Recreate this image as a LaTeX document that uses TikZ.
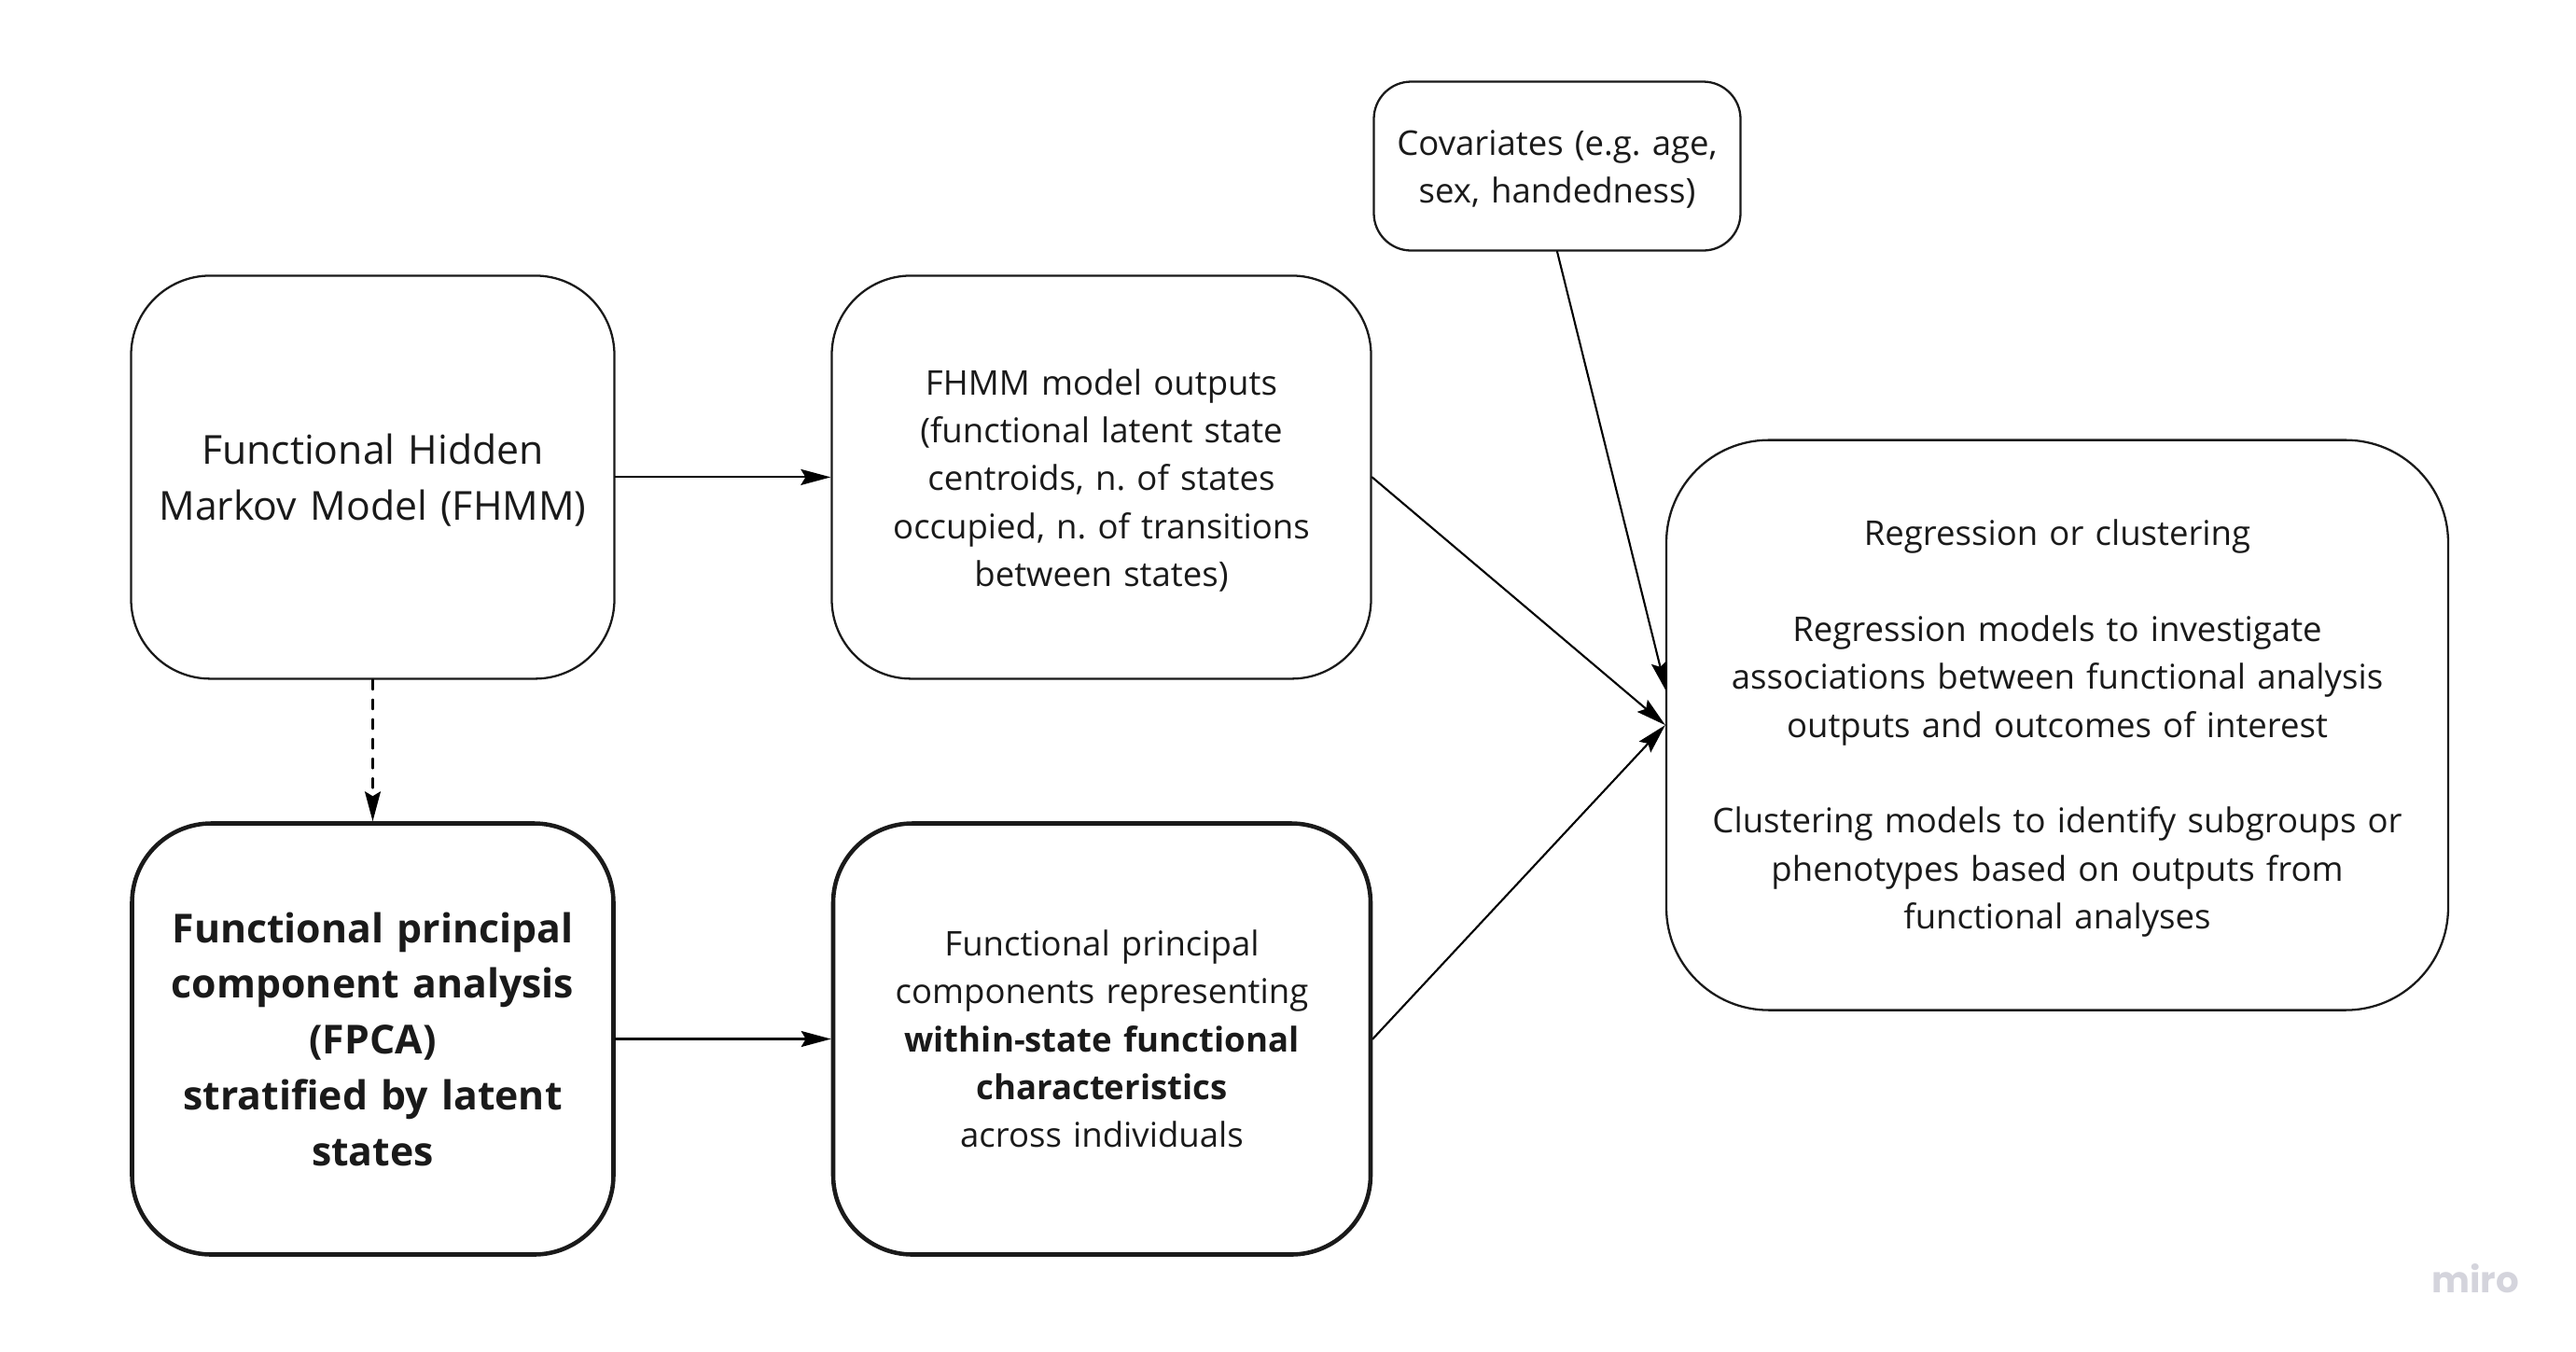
\documentclass[tikz,border=0pt]{standalone}
\usepackage{fontspec}
\setmainfont{Open Sans}
\newfontfamily\wmfont{Poppins}
\usetikzlibrary{arrows.meta}
\definecolor{inkc}{HTML}{1A1A1A}
\definecolor{markc}{HTML}{D4D4DC}
\frenchspacing
\tikzset{
  modelbox/.style={draw=inkc,line width=0.65pt,fill=white,align=center,text=inkc,inner sep=0pt,
    font=\fontsize{10.4}{14.6}\selectfont},
  fpcabox/.style={modelbox,line width=1.3pt},
  bigtext/.style={font=\fontsize{12.17}{17}\selectfont},
  lowtext/.style={execute at end node={\par\vspace*{-2pt}}},
  flow/.style={->,color=black,line width=0.6pt}
}
\begin{document}
\begin{tikzpicture}[line cap=round,line join=round,>={Stealth[length=0.32cm,width=0.17cm,inset=0.05cm]},x=1.0cm,y=1.0cm]
      \useasboundingbox (0,0) rectangle (27.61,-14.48);
      \node[modelbox,bigtext,lowtext,rounded corners=0.85cm,minimum width=5.18cm,minimum height=4.32cm,text width=5cm] (fhmm) at (3.995,-5.114) {Functional Hidden\\Markov Model (FHMM)};
      \node[modelbox,lowtext,rounded corners=0.85cm,minimum width=5.78cm,minimum height=4.32cm,text width=5.4cm] (outputs) at (11.805,-5.114) {FHMM model outputs\\(functional latent state\\centroids, n. of states\\occupied, n. of transitions\\between states)};
      \node[modelbox,lowtext,rounded corners=0.4cm,minimum width=3.93cm,minimum height=1.81cm,text width=3.8cm] (covar) at (16.69,-1.78) {Covariates (e.g. age,\\sex, handedness)};
      \node[fpcabox,bigtext,rounded corners=0.85cm,minimum width=5.16cm,minimum height=4.62cm,text width=5cm] (fpca) at (3.995,-11.135) {\textbf{Functional principal}\\\textbf{component analysis}\\\textbf{(FPCA)}\\\textbf{stratified by latent}\\\textbf{states}};
      \node[fpcabox,rounded corners=0.85cm,minimum width=5.76cm,minimum height=4.62cm,text width=5.4cm] (comps) at (11.81,-11.135) {Functional principal\\components representing\\\textbf{within-state functional}\\\textbf{characteristics}\\across individuals};
      \node[modelbox,lowtext,rounded corners=1.1cm,minimum width=8.38cm,minimum height=6.11cm,text width=8cm] (regr) at (22.05,-7.771) {Regression or clustering\\[14.6pt]Regression models to investigate\\associations between functional analysis\\outputs and outcomes of interest\\[14.6pt]Clustering models to identify subgroups or\\phenotypes based on outputs from\\functional analyses};
      \node[text=markc,font=\wmfont\bfseries\fontsize{11}{14}\selectfont,inner sep=0pt] (miro) at (26.53,-13.7) {miro};
      \coordinate (regrtop) at (17.86,-7.41);
      \draw[flow] (fhmm.east) -- (outputs.west);
      \draw[flow] (fpca.east) -- (comps.west);
      \draw[flow,dashed] (fhmm.south) -- (fpca.north);
      \draw[flow] (outputs.east) -- (regr.west);
      \draw[flow] (comps.east) -- (regr.west);
      \draw[flow] (covar.south) -- (regrtop);
\end{tikzpicture}
\end{document}
